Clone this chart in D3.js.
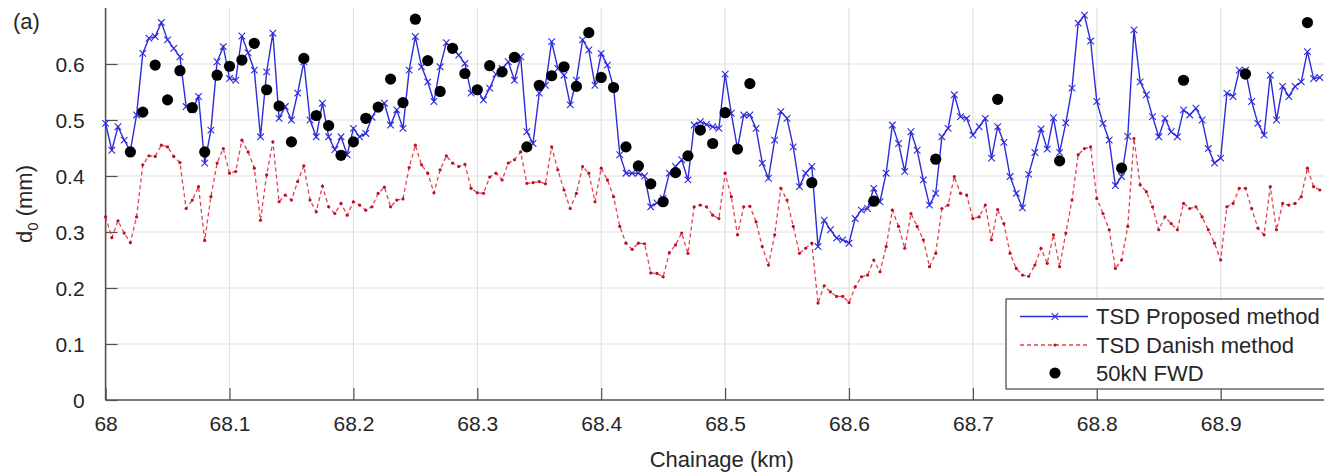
<!DOCTYPE html>
<html>
<head>
<meta charset="utf-8">
<script src="https://cdn.jsdelivr.net/npm/d3@7"></script>
<style>
  html, body { margin: 0; padding: 0; background: #fff; }
  svg { display: block; font-family: "Liberation Sans", Arial, Helvetica, sans-serif; }
</style>
</head>
<body>
<div id="chart"></div>
<script>
// --- Data ---

// TSD survey stations every 5 m starting at 68 km
const startKm = 68;
const stepKm = 0.005;

// TSD Proposed method (mm)
const proposed = [
  0.494, 0.446, 0.488, 0.464, 0.445, 0.509, 0.619, 0.646, 0.649, 0.674,
  0.643, 0.628, 0.613, 0.524, 0.518, 0.542, 0.423, 0.482, 0.604, 0.631,
  0.574, 0.571, 0.650, 0.620, 0.589, 0.470, 0.586, 0.655, 0.503, 0.524,
  0.500, 0.548, 0.604, 0.500, 0.470, 0.530, 0.470, 0.447, 0.470, 0.438,
  0.485, 0.470, 0.476, 0.505, 0.524, 0.530, 0.491, 0.518, 0.485, 0.589,
  0.649, 0.595, 0.568, 0.533, 0.595, 0.638, 0.628, 0.616, 0.601, 0.548,
  0.554, 0.536, 0.557, 0.582, 0.592, 0.604, 0.571, 0.613, 0.479, 0.458,
  0.548, 0.562, 0.640, 0.592, 0.580, 0.527, 0.571, 0.643, 0.625, 0.562,
  0.619, 0.598, 0.558, 0.438, 0.405, 0.405, 0.405, 0.400, 0.345, 0.352,
  0.360, 0.405, 0.417, 0.429, 0.393, 0.491, 0.497, 0.492, 0.488, 0.485,
  0.582, 0.512, 0.449, 0.509, 0.509, 0.485, 0.423, 0.396, 0.464, 0.515,
  0.503, 0.452, 0.381, 0.405, 0.417, 0.274, 0.321, 0.304, 0.289, 0.286,
  0.280, 0.324, 0.339, 0.342, 0.378, 0.354, 0.405, 0.491, 0.458, 0.408,
  0.479, 0.446, 0.393, 0.348, 0.369, 0.470, 0.485, 0.545, 0.506, 0.503,
  0.473, 0.488, 0.503, 0.432, 0.488, 0.460, 0.399, 0.369, 0.343, 0.403,
  0.442, 0.484, 0.448, 0.504, 0.442, 0.495, 0.557, 0.673, 0.687, 0.641,
  0.533, 0.494, 0.464, 0.383, 0.399, 0.471, 0.661, 0.568, 0.545, 0.506,
  0.470, 0.503, 0.479, 0.470, 0.518, 0.509, 0.521, 0.500, 0.449, 0.423,
  0.432, 0.548, 0.542, 0.589, 0.589, 0.533, 0.494, 0.473, 0.580, 0.500,
  0.560, 0.542, 0.560, 0.568, 0.622, 0.574, 0.576
];

// TSD Danish method (mm)
const danish = [
  0.327, 0.290, 0.320, 0.298, 0.281, 0.327, 0.420, 0.436, 0.435, 0.455,
  0.452, 0.435, 0.424, 0.342, 0.357, 0.381, 0.285, 0.363, 0.423, 0.449,
  0.405, 0.408, 0.464, 0.443, 0.414, 0.321, 0.402, 0.461, 0.354, 0.366,
  0.357, 0.390, 0.418, 0.357, 0.336, 0.382, 0.345, 0.333, 0.351, 0.330,
  0.354, 0.348, 0.339, 0.345, 0.369, 0.380, 0.345, 0.357, 0.359, 0.415,
  0.455, 0.420, 0.405, 0.370, 0.411, 0.436, 0.423, 0.417, 0.421, 0.378,
  0.370, 0.369, 0.398, 0.405, 0.393, 0.423, 0.429, 0.443, 0.387, 0.388,
  0.390, 0.386, 0.452, 0.411, 0.375, 0.342, 0.369, 0.417, 0.405, 0.354,
  0.414, 0.393, 0.363, 0.310, 0.280, 0.269, 0.280, 0.279, 0.227, 0.226,
  0.220, 0.263, 0.277, 0.298, 0.262, 0.345, 0.348, 0.345, 0.330, 0.324,
  0.405, 0.363, 0.295, 0.345, 0.346, 0.318, 0.274, 0.241, 0.295, 0.378,
  0.357, 0.310, 0.262, 0.271, 0.280, 0.173, 0.204, 0.193, 0.185, 0.185,
  0.174, 0.202, 0.220, 0.223, 0.250, 0.229, 0.274, 0.339, 0.310, 0.271,
  0.333, 0.310, 0.286, 0.238, 0.262, 0.342, 0.348, 0.399, 0.369, 0.366,
  0.324, 0.327, 0.348, 0.286, 0.340, 0.315, 0.262, 0.235, 0.223, 0.221,
  0.241, 0.271, 0.244, 0.295, 0.238, 0.298, 0.357, 0.438, 0.449, 0.452,
  0.360, 0.333, 0.304, 0.235, 0.250, 0.310, 0.467, 0.384, 0.372, 0.345,
  0.304, 0.327, 0.315, 0.304, 0.351, 0.342, 0.345, 0.327, 0.304, 0.280,
  0.250, 0.345, 0.351, 0.378, 0.378, 0.342, 0.307, 0.295, 0.381, 0.304,
  0.351, 0.348, 0.351, 0.363, 0.414, 0.381, 0.375
];

// 50kN FWD test points
const fwdKm = [
  68.02, 68.03, 68.04, 68.05, 68.06, 68.07, 68.08, 68.09, 68.10, 68.11,
  68.12, 68.13, 68.14, 68.15, 68.16, 68.17, 68.18, 68.19, 68.20, 68.21,
  68.22, 68.23, 68.24, 68.25, 68.26, 68.27, 68.28, 68.29, 68.30, 68.31,
  68.32, 68.33, 68.34, 68.35, 68.36, 68.37, 68.38, 68.39, 68.40, 68.41,
  68.42, 68.43, 68.44, 68.45, 68.46, 68.47, 68.48, 68.49, 68.50, 68.51,
  68.52, 68.57, 68.62, 68.67, 68.72, 68.77, 68.82, 68.87, 68.92, 68.97
];
const fwdD0 = [
  0.443, 0.514, 0.598, 0.536, 0.588, 0.522, 0.443, 0.580, 0.596, 0.607,
  0.637, 0.554, 0.525, 0.461, 0.610, 0.508, 0.490, 0.437, 0.461, 0.503,
  0.523, 0.573, 0.531, 0.680, 0.606, 0.551, 0.628, 0.583, 0.554, 0.597,
  0.586, 0.612, 0.452, 0.562, 0.579, 0.595, 0.560, 0.656, 0.576, 0.558,
  0.452, 0.418, 0.386, 0.354, 0.406, 0.436, 0.482, 0.458, 0.513, 0.448,
  0.565, 0.388, 0.355, 0.430, 0.537, 0.427, 0.414, 0.571, 0.582, 0.674
];

const xTicks = [68, 68.1, 68.2, 68.3, 68.4, 68.5, 68.6, 68.7, 68.8, 68.9];
const yTicks = [0, 0.1, 0.2, 0.3, 0.4, 0.5, 0.6];

const legendLabels = ["TSD Proposed method", "TSD Danish method", "50kN FWD"];

// --- Layout ---
const w = 1324;
const h = 472;
const plotLeft = 105.6;
const plotTop = 8;
const plotBottom = 400;

const xScale = d3.scaleLinear().domain([68, 69]).range([plotLeft, plotLeft + 1239]);
const yScale = d3.scaleLinear().domain([0, 0.7]).range([plotBottom, plotTop]);

const blue = "#2c2cdc";
const red = "#e8404c";
const redDot = "#b81024";
const axisColor = "#505050";
const textColor = "#262626";

const svg = d3.select("#chart").append("svg")
  .attr("width", w)
  .attr("height", h);

// grid
svg.append("g").selectAll("line")
  .data(xTicks.slice(1))
  .enter().append("line")
  .attr("x1", d => xScale(d)).attr("x2", d => xScale(d))
  .attr("y1", plotTop).attr("y2", plotBottom)
  .attr("stroke", "#e0e0e0").attr("stroke-width", 1.2);

svg.append("g").selectAll("line")
  .data(yTicks.slice(1))
  .enter().append("line")
  .attr("x1", plotLeft).attr("x2", w)
  .attr("y1", d => yScale(d)).attr("y2", d => yScale(d))
  .attr("stroke", "#e0e0e0").attr("stroke-width", 1.2);

// axes (ticks point inward)
const xAxis = d3.axisBottom(xScale)
  .tickValues(xTicks)
  .tickSize(-12)
  .tickPadding(16)
  .tickFormat(d3.format("~g"));

const gx = svg.append("g")
  .attr("transform", `translate(0,${plotBottom})`)
  .call(xAxis);
gx.select(".domain").remove();
gx.append("line")
  .attr("x1", plotLeft).attr("x2", w)
  .attr("stroke", axisColor).attr("stroke-width", 1.6);
gx.selectAll(".tick line").attr("stroke", axisColor).attr("stroke-width", 1.2);
gx.selectAll(".tick text")
  .attr("fill", textColor)
  .attr("font-size", 21)
  .attr("font-family", "Liberation Sans, Arial, sans-serif");

const yAxis = d3.axisLeft(yScale)
  .tickValues(yTicks)
  .tickSize(-12)
  .tickPadding(21)
  .tickFormat(d3.format("~g"));

const gy = svg.append("g")
  .attr("transform", `translate(${plotLeft},0)`)
  .call(yAxis);
gy.select(".domain").remove();
gy.append("line")
  .attr("y1", plotTop).attr("y2", plotBottom)
  .attr("stroke", axisColor).attr("stroke-width", 1.6);
gy.selectAll(".tick line").attr("stroke", axisColor).attr("stroke-width", 1.2);
gy.selectAll(".tick text")
  .attr("fill", textColor)
  .attr("font-size", 21)
  .attr("dy", "0.36em")
  .attr("font-family", "Liberation Sans, Arial, sans-serif");

// --- Series ---
const chainage = proposed.map((d, i) => startKm + i * stepKm);

const line = d3.line()
  .x((d, i) => xScale(chainage[i]))
  .y(d => yScale(d));

// Danish: red dashed line with dot markers
svg.append("path")
  .datum(danish)
  .attr("d", line)
  .attr("fill", "none")
  .attr("stroke", red)
  .attr("stroke-width", 1.3)
  .attr("stroke-dasharray", "4,3");

svg.append("g").selectAll("circle")
  .data(danish)
  .enter().append("circle")
  .attr("cx", (d, i) => xScale(chainage[i]))
  .attr("cy", d => yScale(d))
  .attr("r", 1.6)
  .attr("fill", redDot);

// Proposed: blue solid line with x markers
svg.append("path")
  .datum(proposed)
  .attr("d", line)
  .attr("fill", "none")
  .attr("stroke", blue)
  .attr("stroke-width", 1.4);

const xMark = function (cx, cy, s) {
  return `M${cx - s},${cy - s}L${cx + s},${cy + s}M${cx - s},${cy + s}L${cx + s},${cy - s}`;
};

svg.append("g").selectAll("path")
  .data(proposed)
  .enter().append("path")
  .attr("d", (d, i) => xMark(xScale(chainage[i]), yScale(d), 3.3))
  .attr("stroke", blue)
  .attr("stroke-width", 1.1)
  .attr("fill", "none");

// FWD black dots
svg.append("g").selectAll("circle")
  .data(fwdD0)
  .enter().append("circle")
  .attr("cx", (d, i) => xScale(fwdKm[i]))
  .attr("cy", d => yScale(d))
  .attr("r", 5.6)
  .attr("fill", "#000");

// --- Legend ---
const lg = svg.append("g");
lg.append("rect")
  .attr("x", 1006).attr("y", 299)
  .attr("width", 330).attr("height", 90)
  .attr("fill", "#fff")
  .attr("stroke", axisColor).attr("stroke-width", 1.3);

const rowY = [316.5, 345, 373];

lg.append("line")
  .attr("x1", 1020).attr("x2", 1088)
  .attr("y1", rowY[0]).attr("y2", rowY[0])
  .attr("stroke", blue).attr("stroke-width", 1.4);
lg.append("path")
  .attr("d", xMark(1055, rowY[0], 3.3))
  .attr("stroke", blue).attr("stroke-width", 1.1);

lg.append("line")
  .attr("x1", 1020).attr("x2", 1088)
  .attr("y1", rowY[1]).attr("y2", rowY[1])
  .attr("stroke", red).attr("stroke-width", 1.3)
  .attr("stroke-dasharray", "4,3");
lg.append("circle")
  .attr("cx", 1055).attr("cy", rowY[1]).attr("r", 1.6)
  .attr("fill", redDot);

lg.append("circle")
  .attr("cx", 1055).attr("cy", rowY[2]).attr("r", 5.6)
  .attr("fill", "#000");

lg.selectAll("text")
  .data(legendLabels)
  .enter().append("text")
  .attr("x", 1096)
  .attr("y", (d, i) => rowY[i])
  .attr("dy", "0.36em")
  .attr("font-size", 22)
  .attr("fill", textColor)
  .text(d => d);

// --- Labels ---
svg.append("text")
  .attr("x", (plotLeft + w) / 2 + 7)
  .attr("y", 467)
  .attr("text-anchor", "middle")
  .attr("font-size", 22)
  .attr("fill", textColor)
  .text("Chainage (km)");

const yl = svg.append("text")
  .attr("transform", `translate(32,${(plotTop + plotBottom) / 2}) rotate(-90)`)
  .attr("text-anchor", "middle")
  .attr("font-size", 22)
  .attr("fill", textColor);
yl.append("tspan").text("d");
yl.append("tspan").attr("font-size", 15).attr("dy", 6).text("0");
yl.append("tspan").attr("dy", -6).text(" (mm)");

svg.append("text")
  .attr("x", 13)
  .attr("y", 29)
  .attr("font-size", 22)
  .attr("fill", textColor)
  .text("(a)");
</script>
</body>
</html>
